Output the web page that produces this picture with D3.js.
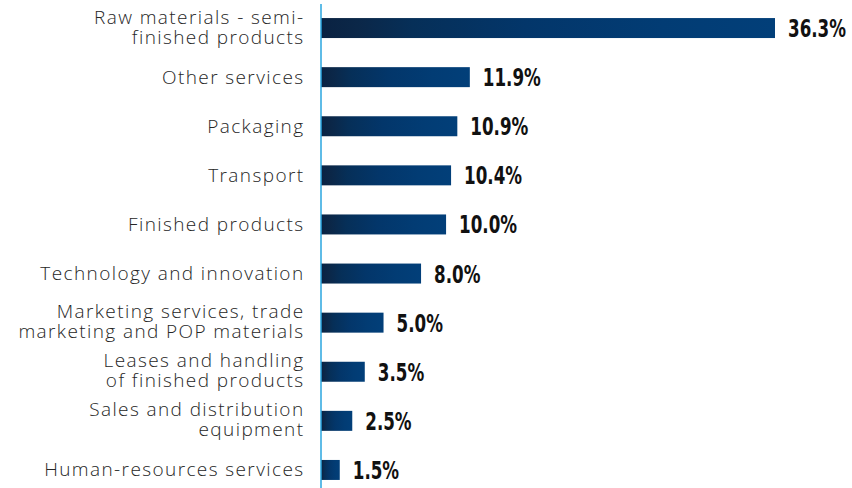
<!DOCTYPE html>
<html>
<head>
<meta charset="utf-8">
<script src="https://cdn.jsdelivr.net/npm/d3@7"></script>
<style>
  html, body { margin: 0; padding: 0; background: #ffffff; }
  svg { display: block; }
  .cat { font-family: "Open Sans", "Noto Sans", sans-serif; font-weight: 300; font-size: 19px; letter-spacing: 1.4px; fill: #262626; }
  .val { font-family: "DejaVu Sans Condensed", "DejaVu Sans", sans-serif; font-weight: 700; font-size: 25px; fill: #111111; }
</style>
</head>
<body>
<svg id="chart" width="852" height="488"></svg>
<script>
// Share of purchases by category (%)
const categories = [
  "Raw materials - semi-\nfinished products",
  "Other services",
  "Packaging",
  "Transport",
  "Finished products",
  "Technology and innovation",
  "Marketing services, trade\nmarketing and POP materials",
  "Leases and handling\nof finished products",
  "Sales and distribution\nequipment",
  "Human-resources services"
];
const values = [36.3, 11.9, 10.9, 10.4, 10.0, 8.0, 5.0, 3.5, 2.5, 1.5];
const valueLabels = ["36.3%", "11.9%", "10.9%", "10.4%", "10.0%", "8.0%", "5.0%", "3.5%", "2.5%", "1.5%"];

const svg = d3.select("#chart");
const axisX = 321;

const x = d3.scaleLinear().domain([0, 36.3]).range([axisX, 775]);
const y = d3.scaleBand()
  .domain(categories)
  .range([3.5, 494.5])
  .paddingInner(0.593)
  .paddingOuter(0.2965);

// Dark-to-blue fill along each bar
const defs = svg.append("defs");
const grad = defs.append("linearGradient")
  .attr("id", "barFill")
  .attr("x1", "0").attr("y1", "0").attr("x2", "1").attr("y2", "0");
[[0, "#0a2242"], [0.08, "#0b2748"], [0.2, "#062f58"], [0.45, "#03366a"], [0.75, "#023c74"], [1, "#023f79"]]
  .forEach(([o, c]) => grad.append("stop").attr("offset", o).attr("stop-color", c));

const rows = categories.map((c, i) => ({ cat: c, value: values[i], label: valueLabels[i] }));

svg.append("g").selectAll("rect")
  .data(rows)
  .join("rect")
  .attr("x", x(0))
  .attr("y", d => y(d.cat))
  .attr("width", d => x(d.value) - x(0))
  .attr("height", y.bandwidth())
  .attr("fill", "url(#barFill)");

// Category labels, right-aligned left of the axis
const labelX = 304.5;
const catG = svg.append("g");
rows.forEach(d => {
  const lines = d.cat.split("\n");
  const cy = y(d.cat) + y.bandwidth() / 2;
  const t = catG.append("text")
    .attr("class", "cat")
    .attr("text-anchor", "end")
    .attr("x", labelX);
  if (lines.length === 1) {
    t.append("tspan").attr("x", labelX).attr("y", cy + 6.5).text(lines[0]);
  } else {
    t.append("tspan").attr("x", labelX).attr("y", cy - 4.5).text(lines[0]);
    t.append("tspan").attr("x", labelX).attr("y", cy + 15.5).text(lines[1]);
  }
});

// Value labels at bar ends, in a narrow (horizontally compressed) bold face
const valG = svg.append("g");
const valTexts = valG.selectAll("text")
  .data(rows)
  .join("text")
  .attr("class", "val")
  .text(d => d.label);
const refWidth = valTexts.filter((d, i) => i === 0).node().getComputedTextLength();
const squeeze = refWidth > 0 ? 58 / refWidth : 1;
valTexts.attr("transform", d =>
  `translate(${x(d.value) + 13},${y(d.cat) + y.bandwidth() / 2 + 9}) scale(${squeeze},1)`);

// Vertical baseline axis
svg.append("line")
  .attr("x1", axisX).attr("x2", axisX)
  .attr("y1", 4).attr("y2", 488)
  .attr("stroke", "#2aa6df")
  .attr("stroke-width", 1.5);
</script>
</body>
</html>
